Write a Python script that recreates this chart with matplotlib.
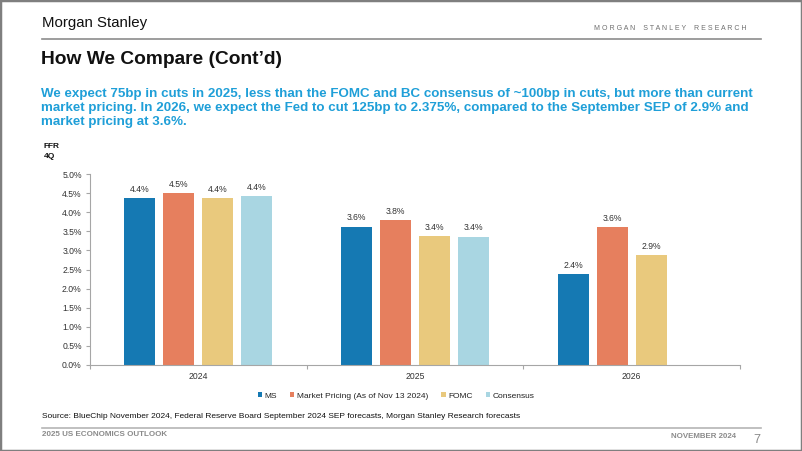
import matplotlib

matplotlib.use("Agg")
import matplotlib.pyplot as plt
import numpy as np
from matplotlib.patches import Patch, Rectangle
from matplotlib.lines import Line2D

plt.rcParams["font.family"] = ["Liberation Sans", "DejaVu Sans"]

# data
years = ["2024", "2025", "2026"]
series = ["MS", "Market Pricing (As of Nov 13 2024)", "FOMC", "Consensus"]
ms = [4.375, 3.625, 2.375]
market = [4.5, 3.8, 3.6]
fomc = [4.375, 3.375, 2.875]
consensus = [4.43, 3.36, np.nan]
colors = ["#1579b3", "#e67f5e", "#e9c97d", "#a9d6e2"]
yticks = np.arange(0, 5.01, 0.5)

W, H = 802, 451
fig = plt.figure(figsize=(W / 100, H / 100), dpi=100, facecolor="white")


def px(x, y):
    return x / W, 1 - y / H


# frame + header
fig.patches.append(Rectangle((0, 0), 1, 1, transform=fig.transFigure, fill=False,
                             edgecolor="#7f7f7f", linewidth=2.5))
fig.text(*px(42, 23), "Morgan Stanley", fontsize=10.8, color="#111111", va="center")
fig.text(*px(747, 29), " ".join("MORGAN STANLEY RESEARCH").replace("   ", "    "),
         fontsize=5, color="#6e6e6e", ha="right", va="center")
fig.add_artist(Line2D([42 / W, 761 / W], [1 - 39 / H] * 2, color="#8c8c8c", linewidth=1.2))
fig.text(*px(41, 60), "How We Compare (Cont\u2019d)", fontsize=13.8, fontweight="bold",
         color="#111111", va="center")

blurb = ("We expect 75bp in cuts in 2025, less than the FOMC and BC consensus of ~100bp in cuts, but more than current\n"
         "market pricing. In 2026, we expect the Fed to cut 125bp to 2.375%, compared to the September SEP of 2.9% and\n"
         "market pricing at 3.6%.")
fig.text(*px(41, 88), blurb, fontsize=9.65, fontweight="bold", color="#1f9fd8",
         va="top", linespacing=1.2)
fig.text(*px(44, 143), "FFR\n4Q", fontsize=6, fontweight="bold", color="#111111",
         va="top", linespacing=1.55)

# chart
ax = fig.add_axes([90 / W, 1 - 365 / H, 650 / W, 191 / H])
x = np.arange(len(years))
width = 0.143
step = 0.18
for i, (vals, c) in enumerate(zip([ms, market, fomc, consensus], colors)):
    bars = ax.bar(x + (i - 1.5) * step, vals, width=width, color=c, label=series[i])
    ax.bar_label(bars, labels=["" if np.isnan(v) else f"{v:.1f}%" for v in vals],
                 padding=3, fontsize=6.2, color="#333333")

ax.set_xlim(-0.5, 2.5)
ax.set_ylim(0, 5)
ax.set_yticks(yticks)
ax.set_yticklabels([f"{t:.1f}%" for t in yticks])
ax.set_xticks(x)
ax.set_xticklabels(years)
ax.set_xticks([-0.5, 0.5, 1.5, 2.5], minor=True)
ax.tick_params(axis="x", which="major", length=0, pad=5, labelsize=6.2, labelcolor="#333333")
ax.tick_params(axis="x", which="minor", length=3, color="#a6a6a6", width=0.8)
ax.tick_params(axis="y", length=3, color="#a6a6a6", width=0.8, labelsize=6.2,
               labelcolor="#333333", pad=3)
for s in ["top", "right"]:
    ax.spines[s].set_visible(False)
for s in ["left", "bottom"]:
    ax.spines[s].set_color("#a6a6a6")
    ax.spines[s].set_linewidth(0.8)

handles = [Patch(facecolor=c, edgecolor="none") for c in colors]
fig.legend(handles, series, loc="center", bbox_to_anchor=px(396, 396), ncol=4,
           frameon=False, fontsize=6, handlelength=0.5, handleheight=0.5,
           handletextpad=0.3, columnspacing=1.6, labelcolor="#222222")

# footer
fig.text(*px(42, 417), "Source: BlueChip November 2024, Federal Reserve Board September 2024 SEP forecasts, "
         "Morgan Stanley Research forecasts", fontsize=6.05, color="#111111", va="center")
fig.add_artist(Line2D([42 / W, 761 / W], [1 - 428 / H] * 2, color="#b5b5b5", linewidth=1.2))
fig.text(*px(42, 435), "2025 US ECONOMICS OUTLOOK", fontsize=5.75, fontweight="bold",
         color="#8a8a8a", va="center")
fig.text(*px(736, 437), "NOVEMBER 2024", fontsize=5.7, fontweight="bold",
         color="#8a8a8a", va="center", ha="right")
fig.text(*px(757, 440), "7", fontsize=9, color="#8a8a8a", va="center", ha="center")

fig.savefig("out.png", dpi=100, facecolor="white")
